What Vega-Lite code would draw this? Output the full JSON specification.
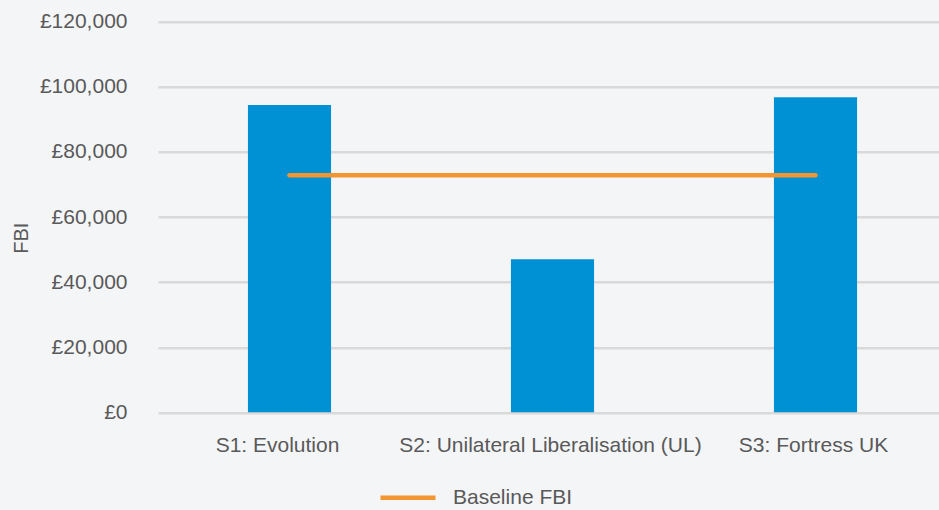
{
  "$schema": "https://vega.github.io/schema/vega-lite/v6.json",
  "width": 781,
  "height": 390.6,
  "autosize": {"type": "none"},
  "padding": {"left": 158, "top": 21.7, "right": 0, "bottom": 97.7},
  "background": "#f4f5f7",
  "config": {
    "view": {"stroke": null},
    "font": "Liberation Sans"
  },
  "data": {
    "values": [
      {"scenario": "S1: Evolution", "fbi": 94400, "baseline": 72800},
      {"scenario": "S2: Unilateral Liberalisation (UL)", "fbi": 47000, "baseline": 72800},
      {"scenario": "S3: Fortress UK", "fbi": 96800, "baseline": 72800}
    ]
  },
  "encoding": {
    "x": {
      "field": "scenario",
      "type": "nominal",
      "sort": null,
      "scale": {"range": [0, 789], "paddingInner": 0.684, "paddingOuter": 0.342},
      "axis": {
        "title": null,
        "labelAngle": 0,
        "labelFontSize": 21,
        "labelColor": "#595959",
        "labelPadding": 22,
        "labelLimit": 0,
        "labelOffset": {"expr": "datum.value == 'S1: Evolution' ? -12 : -2"},
        "ticks": false,
        "domain": false,
        "grid": false
      }
    }
  },
  "layer": [
    {
      "mark": {"type": "bar", "color": "#0090d4"},
      "encoding": {
        "y": {
          "field": "fbi",
          "type": "quantitative",
          "scale": {"domain": [0, 120000]},
          "axis": {
            "values": [0, 20000, 40000, 60000, 80000, 100000, 120000],
            "labelExpr": "'£' + format(datum.value, ',')",
            "labelFontSize": 21,
            "labelColor": "#595959",
            "labelPadding": 31,
            "ticks": false,
            "domain": false,
            "grid": true,
            "gridColor": "#d9d9d9",
            "gridWidth": 2.5,
            "title": "FBI",
            "titleFontSize": 20,
            "titleFontWeight": "normal",
            "titleColor": "#595959",
            "titleX": -137,
            "titleY": 216,
            "titleBaseline": "middle"
          }
        }
      }
    },
    {
      "mark": {"type": "line", "strokeWidth": 4.5, "strokeCap": "round"},
      "encoding": {
        "y": {"field": "baseline", "type": "quantitative"},
        "color": {
          "datum": "Baseline FBI",
          "scale": {"range": ["#f39530"]},
          "legend": {
            "title": null,
            "orient": "none",
            "legendX": 220,
            "legendY": 446,
            "symbolType": "stroke",
            "symbolSize": 3025,
            "symbolStrokeWidth": 4.5,
            "labelFontSize": 21,
            "labelColor": "#595959",
            "labelOffset": 15,
            "labelLimit": 0
          }
        }
      }
    }
  ]
}
